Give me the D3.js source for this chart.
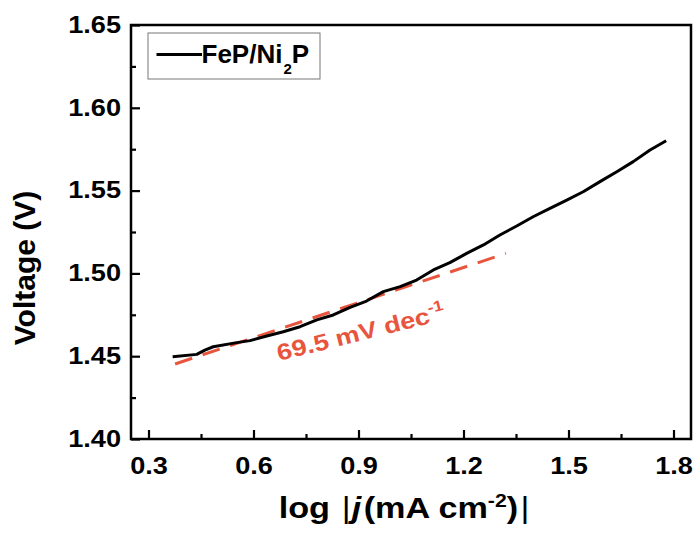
<!DOCTYPE html>
<html>
<head>
<meta charset="utf-8">
<script src="https://cdn.jsdelivr.net/npm/d3@7"></script>
<style>
  body { margin: 0; background: #fff; }
  svg { font-family: "Liberation Sans", Arial, sans-serif; font-weight: bold; }
</style>
</head>
<body>
<div id="chart"></div>
<script>
// Tafel plot, FeP/Ni2P
const logJ = [0.369, 0.438, 0.461, 0.485, 0.552, 0.590, 0.638, 0.685, 0.733, 0.781,
              0.828, 0.876, 0.923, 0.971, 1.019, 1.066, 1.114, 1.161, 1.209, 1.257,
              1.304, 1.352, 1.399, 1.447, 1.495, 1.542, 1.590, 1.638, 1.685, 1.733, 1.779];
const voltage = [1.4497, 1.4511, 1.4537, 1.4557, 1.4582, 1.4594, 1.4622, 1.4648, 1.4678, 1.4719,
                 1.4749, 1.4795, 1.4833, 1.4890, 1.4920, 1.4960, 1.5021, 1.5065, 1.5121, 1.5172,
                 1.5232, 1.5286, 1.5342, 1.5393, 1.5443, 1.5493, 1.5554, 1.5614, 1.5675, 1.5745, 1.5801];
const fitX = [0.376, 1.321];
const fitY = [1.4453, 1.5121];
const xTicks = [0.3, 0.6, 0.9, 1.2, 1.5, 1.8];
const yTicks = [1.40, 1.45, 1.50, 1.55, 1.60, 1.65];
const seriesName = "FeP/Ni";
const slopeLabel = "69.5 mV dec";

const width = 694, height = 533;
const margin = { top: 25, right: 3, bottom: 94, left: 131 };
const innerWidth = width - margin.left - margin.right;
const innerHeight = height - margin.top - margin.bottom;
const red = "#e8553e";
const wide = 1.18; // the original export is a bit stretched sideways

// widen a plain text by its length
function stretch(sel, k) {
    sel.each(function() {
        const len = this.getComputedTextLength();
        d3.select(this)
            .attr("textLength", (len * k).toFixed(1))
            .attr("lengthAdjust", "spacingAndGlyphs");
    });
}

const svg = d3.select("#chart").append("svg")
    .attr("width", width)
    .attr("height", height);

const g = svg.append("g")
    .attr("transform", `translate(${margin.left},${margin.top})`);

const x = d3.scaleLinear().domain([0.25, 1.85]).range([0, innerWidth]);
const y = d3.scaleLinear().domain([1.40, 1.65]).range([innerHeight, 0]);

// minor ticks
const xMinor = xTicks.map(t => t + 0.15).filter(t => t < 1.85);
const yMinor = yTicks.map(t => t + 0.025).filter(t => t < 1.65);

// X axis (ticks inward)
const xAxis = g.append("g")
    .attr("transform", `translate(0,${innerHeight})`)
    .call(d3.axisBottom(x).tickValues(xTicks).tickSizeInner(-9).tickSizeOuter(0).tickPadding(14)
        .tickFormat(d3.format(".1f")));
g.append("g")
    .attr("transform", `translate(0,${innerHeight})`)
    .call(d3.axisBottom(x).tickValues(xMinor).tickSize(-5).tickFormat(""))
    .call(a => a.select(".domain").remove());

// Y axis
const yAxis = g.append("g")
    .call(d3.axisLeft(y).tickValues(yTicks).tickSizeInner(-9).tickSizeOuter(0).tickPadding(10)
        .tickFormat(d3.format(".2f")));
g.append("g")
    .call(d3.axisLeft(y).tickValues(yMinor).tickSize(-5).tickFormat(""))
    .call(a => a.select(".domain").remove());

g.selectAll(".tick line").attr("stroke", "#000").attr("stroke-width", 2.2);
g.selectAll(".tick text")
    .attr("fill", "#000")
    .style("font-size", "23px")
    .style("font-weight", "bold")
    .style("font-family", "'Liberation Sans', Arial, sans-serif");
xAxis.selectAll(".tick text").attr("dy", "0.9em");
stretch(g.selectAll(".tick text"), wide);

// frame
g.append("rect")
    .attr("width", innerWidth)
    .attr("height", innerHeight)
    .attr("fill", "none")
    .attr("stroke", "#000")
    .attr("stroke-width", 2.5);
g.selectAll(".domain").remove();

// fit line
g.append("line")
    .attr("x1", x(fitX[0])).attr("y1", y(fitY[0]))
    .attr("x2", x(fitX[1])).attr("y2", y(fitY[1]))
    .attr("stroke", red)
    .attr("stroke-width", 3)
    .attr("stroke-dasharray", "18,11");

// data line
const line = d3.line()
    .x((d, i) => x(logJ[i]))
    .y(d => y(d));
g.append("path")
    .datum(voltage)
    .attr("fill", "none")
    .attr("stroke", "#000")
    .attr("stroke-width", 3)
    .attr("stroke-linejoin", "round")
    .attr("d", line);

// slope annotation
const ann = g.append("text")
    .attr("transform", `translate(${x(0.673)},${y(1.4471)}) rotate(-14)`)
    .attr("fill", red)
    .style("font-size", "23px");
ann.append("tspan").text(slopeLabel);
ann.append("tspan").attr("dy", -10).style("font-size", "15px").text("-1");
stretch(ann, wide);

// legend
const lg = g.append("g").attr("transform", "translate(17,8)");
lg.append("rect")
    .attr("width", 172).attr("height", 46)
    .attr("fill", "#fff")
    .attr("stroke", "#777").attr("stroke-width", 1);
lg.append("line")
    .attr("x1", 8.5).attr("x2", 54).attr("y1", 21.5).attr("y2", 21.5)
    .attr("stroke", "#000").attr("stroke-width", 3);
const lt = lg.append("text").attr("x", 53.5).attr("y", 29.7).style("font-size", "26px");
lt.append("tspan").text(seriesName);
lt.append("tspan").attr("dy", 11).attr("dx", 1).style("font-size", "15px").text("2");
lt.append("tspan").attr("dy", -11).text("P");

// x label, widened around its centre
const xl = svg.append("text")
    .attr("transform", `translate(404,518) scale(${wide},1)`)
    .attr("text-anchor", "middle")
    .style("font-size", "29px");
xl.append("tspan").text("log");
xl.append("tspan").attr("dx", 10).style("font-weight", "normal").text("|");
xl.append("tspan").attr("dx", 1).style("font-style", "italic").text("j");
xl.append("tspan").attr("dx", 2).text("(mA cm");
xl.append("tspan").attr("dy", -11).style("font-size", "18px").text("-2");
xl.append("tspan").attr("dy", 11).text(")");
xl.append("tspan").attr("dx", 2).style("font-weight", "normal").text("|");

svg.append("text")
    .attr("transform", `translate(35,${268}) rotate(-90)`)
    .attr("text-anchor", "middle")
    .style("font-size", "30px")
    .text("Voltage (V)");
</script>
</body>
</html>
